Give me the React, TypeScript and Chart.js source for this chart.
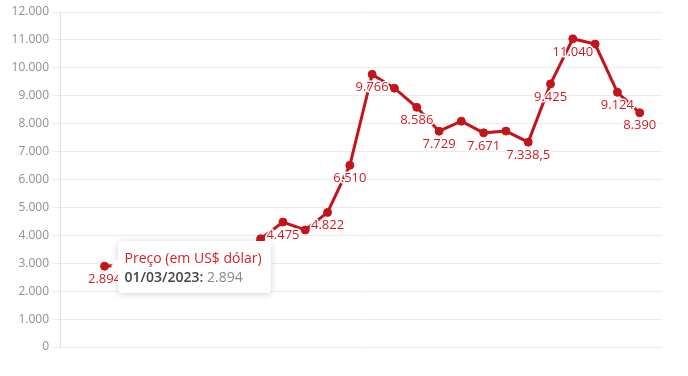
import React, { useEffect, useRef } from "react";
import { Chart, registerables } from "chart.js";

Chart.register(...registerables);

// Categories (monthly dates); first two and last slot carry no value
const categories: string[] = [
  "01/01/2023", "01/02/2023", "01/03/2023", "01/04/2023", "01/05/2023", "01/06/2023",
  "01/07/2023", "01/08/2023", "01/09/2023", "01/10/2023", "01/11/2023", "01/12/2023",
  "01/01/2024", "01/02/2024", "01/03/2024", "01/04/2024", "01/05/2024", "01/06/2024",
  "01/07/2024", "01/08/2024", "01/09/2024", "01/10/2024", "01/11/2024", "01/12/2024",
  "01/01/2025", "01/02/2025", "01/03/2025", "01/04/2025",
];

const seriesName = "Preço (em US$ dólar)";

const prices: (number | null)[] = [
  null, null, 2894, 2950, 3010, 3120, 3060, 3150, 3200, 3880, 4475, 4190, 4822, 6510,
  9766, 9270, 8586, 7729, 8090, 7671, 7735, 7338.5, 9425, 11040, 10850, 9124, 8390, null,
];

// Whether a value label is printed under each point
const showLabel: boolean[] = [
  false, false, true, false, false, false, false, false, false, false, true, false, true, true,
  true, false, true, true, false, true, false, true, true, true, false, true, true, false,
];

const yTicks: number[] = [0, 1000, 2000, 3000, 4000, 5000, 6000, 7000, 8000, 9000, 10000, 11000, 12000];

const activeIndex = 2;

const RED = "#c4141b";
const LABEL_RED = "#d01b22";
const FONT = "'Open Sans', sans-serif";

function fmtBR(v: number): string {
  const s = String(Math.abs(v));
  const [i, d] = s.split(".");
  const withDots = i.replace(/\B(?=(\d{3})+(?!\d))/g, ".");
  return (v < 0 ? "-" : "") + withDots + (d ? "," + d : "");
}

export default function App() {
  const canvasRef = useRef<HTMLCanvasElement>(null);
  const tipRef = useRef<HTMLDivElement>(null);
  const titleRef = useRef<HTMLDivElement>(null);
  const dateRef = useRef<HTMLSpanElement>(null);
  const valRef = useRef<HTMLSpanElement>(null);

  useEffect(() => {
    document.body.style.margin = "0";
    const canvas = canvasRef.current!;

    const labelPlugin = {
      id: "pointLabels",
      afterDatasetsDraw(chart: any) {
        const ctx = chart.ctx;
        const meta = chart.getDatasetMeta(0);
        ctx.save();
        ctx.font = `13px ${FONT}`;
        ctx.textAlign = "center";
        ctx.textBaseline = "middle";
        ctx.lineJoin = "round";
        meta.data.forEach((pt: any, i: number) => {
          const v = prices[i];
          if (v == null || !showLabel[i]) return;
          const txt = fmtBR(v);
          const x = pt.x;
          const y = pt.y + 13;
          ctx.strokeStyle = "#ffffff";
          ctx.lineWidth = 3;
          ctx.strokeText(txt, x, y);
          ctx.fillStyle = LABEL_RED;
          ctx.fillText(txt, x, y);
        });
        ctx.restore();
      },
    };

    const chart = new Chart(canvas, {
      type: "line",
      data: {
        labels: categories,
        datasets: [
          {
            label: seriesName,
            data: prices,
            borderColor: RED,
            backgroundColor: RED,
            borderWidth: 3,
            pointRadius: 4,
            pointBorderWidth: 1,
            pointHoverRadius: 4,
            pointHoverBorderWidth: 1,
            pointBackgroundColor: RED,
            pointBorderColor: RED,
            tension: 0,
            spanGaps: false,
          },
        ],
      },
      options: {
        responsive: false,
        animation: false,
        layout: { padding: { top: 12, right: 26, bottom: 29, left: 0 } },
        plugins: {
          legend: { display: false },
          tooltip: {
            enabled: false,
            external: (context: any) => {
              const el = tipRef.current;
              if (!el) return;
              const t = context.tooltip;
              if (t.opacity === 0 || !t.dataPoints || !t.dataPoints.length) {
                el.style.display = "none";
                return;
              }
              const dp = t.dataPoints[0];
              titleRef.current!.textContent = dp.dataset.label;
              dateRef.current!.textContent = dp.label + ":";
              valRef.current!.textContent = " " + fmtBR(dp.raw);
              el.style.display = "block";
              el.style.left = canvas.offsetLeft + t.caretX + 13 + "px";
              el.style.top = canvas.offsetTop + t.caretY - 25 + "px";
            },
          },
        },
        scales: {
          x: {
            display: false,
            offset: false,
          },
          y: {
            min: 0,
            max: 12000,
            afterFit: (scale: any) => {
              scale.width = 60;
            },
            afterBuildTicks: (scale: any) => {
              scale.ticks = yTicks.map((v) => ({ value: v }));
            },
            grid: { color: "#ebebeb", tickColor: "#ebebeb", tickLength: 8, drawTicks: true },
            border: { color: "#e4e4e4" },
            ticks: {
              padding: 3,
              color: "#8f8f8f",
              font: { family: FONT, size: 12 },
              callback: (v: any) => fmtBR(Number(v)),
            },
          },
        },
      },
      plugins: [labelPlugin],
    });

    chart.tooltip!.setActiveElements([{ datasetIndex: 0, index: activeIndex }], { x: 0, y: 0 });
    chart.update();

    return () => {
      chart.destroy();
    };
  }, []);

  return (
    <div style={{ position: "relative", width: 688, height: 376 }}>
      <canvas ref={canvasRef} width={688} height={376} style={{ display: "block" }} />
      <div
        ref={tipRef}
        style={{
          position: "absolute",
          display: "none",
          background: "#fff",
          borderRadius: 4,
          boxShadow: "0 1px 7px rgba(0,0,0,0.18)",
          padding: "7px 7px",
          fontFamily: FONT,
          fontSize: 14,
          lineHeight: "19px",
          whiteSpace: "nowrap",
          width: 139,
          pointerEvents: "none",
        }}
      >
        <div
          style={{
            position: "absolute",
            left: -5,
            top: 20,
            width: 10,
            height: 10,
            background: "#fff",
            transform: "rotate(45deg)",
          }}
        />
        <div ref={titleRef} style={{ color: "#d3222a", position: "relative" }} />
        <div style={{ position: "relative" }}>
          <span ref={dateRef} style={{ color: "#444", fontWeight: 600 }} />
          <span ref={valRef} style={{ color: "#888" }} />
        </div>
      </div>
    </div>
  );
}
